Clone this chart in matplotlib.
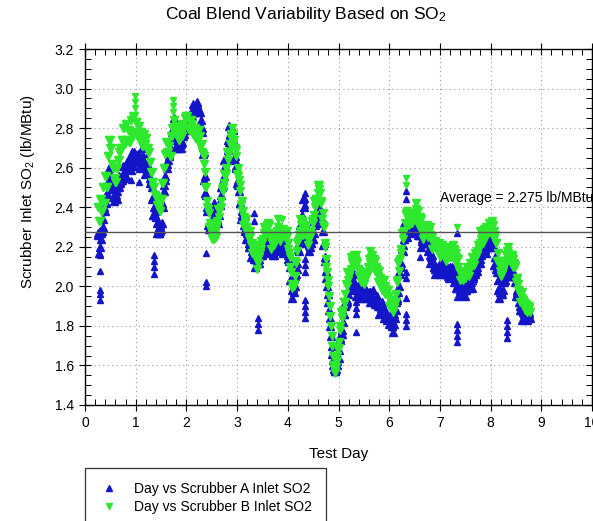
import numpy as np
import matplotlib
matplotlib.use("Agg")
import matplotlib.pyplot as plt
from matplotlib.ticker import MultipleLocator, FormatStrFormatter
from matplotlib.lines import Line2D

plt.rcParams['font.family'] = ['Liberation Sans', 'DejaVu Sans']
plt.rcParams['mathtext.fontset'] = 'custom'
plt.rcParams['mathtext.rm'] = 'Liberation Sans'
plt.rcParams['mathtext.it'] = 'Liberation Sans:italic'

# Logger readings: first sample day and sampling interval (days).
# Readings come in two interleaved sets: on the interval, and half an interval later.
FIRST_DAY = 0.25
STEP = 0.025

# Scrubber B inlet SO2 (lb/MBtu), readings on the interval
so2_b = [
    2.40, 2.33, 2.44, 2.38, 2.50, 2.42, 2.56, 2.50, 2.66, 2.74,
    2.70, 2.62, 2.60, 2.55, 2.53, 2.60, 2.64, 2.68, 2.70, 2.74,
    2.80, 2.72, 2.82, 2.74, 2.79, 2.73, 2.84, 2.76, 2.86, 2.78,
    2.83, 2.76, 2.81, 2.74, 2.78, 2.71, 2.77, 2.72, 2.75, 2.70,
    2.68, 2.63, 2.58, 2.53, 2.50, 2.46, 2.45, 2.41, 2.40, 2.38,
    2.44, 2.52, 2.60, 2.67, 2.73, 2.68, 2.71, 2.66, 2.76, 2.80,
    2.84, 2.78, 2.81, 2.75, 2.74, 2.79, 2.76, 2.82, 2.80, 2.85,
    2.86, 2.80, 2.79, 2.84, 2.82, 2.77, 2.80, 2.75, 2.79, 2.74,
    2.79, 2.71, 2.68, 2.67, 2.62, 2.50, 2.40, 2.39, 2.30, 2.30,
    2.24, 2.27, 2.27, 2.25, 2.33, 2.39, 2.38, 2.40, 2.49, 2.50,
    2.57, 2.57, 2.68, 2.67, 2.68, 2.77, 2.80, 2.72, 2.70, 2.69,
    2.57, 2.56, 2.51, 2.41, 2.38, 2.31, 2.33, 2.34, 2.27, 2.24,
    2.28, 2.21, 2.17, 2.19, 2.21, 2.14, 2.09, 2.17, 2.17, 2.23,
    2.22, 2.30, 2.29, 2.27, 2.32, 2.31, 2.24, 2.19, 2.22, 2.21,
    2.26, 2.25, 2.34, 2.28, 2.23, 2.27, 2.29, 2.26, 2.27, 2.28,
    2.19, 2.17, 2.10, 1.99, 2.00, 2.01, 2.13, 2.22, 2.23, 2.26,
    2.34, 2.32, 2.26, 2.29, 2.31, 2.25, 2.21, 2.28, 2.26, 2.33,
    2.34, 2.43, 2.44, 2.43, 2.51, 2.51, 2.42, 2.34, 2.31, 2.20,
    2.14, 2.07, 2.00, 1.90, 1.80, 1.70, 1.60, 1.56, 1.59, 1.65,
    1.69, 1.80, 1.87, 1.86, 1.92, 1.92, 2.01, 2.07, 2.05, 2.07,
    2.15, 2.13, 2.12, 2.14, 2.16, 2.09, 2.05, 2.07, 2.02, 2.03,
    2.01, 2.07, 2.07, 2.06, 2.14, 2.18, 2.15, 2.11, 2.14, 2.08,
    2.09, 2.02, 2.08, 2.02, 1.98, 2.02, 2.03, 1.96, 1.98, 1.98,
    1.90, 1.93, 1.93, 1.87, 1.92, 1.92, 2.03, 2.12, 2.13, 2.17,
    2.27, 2.27, 2.28, 2.37, 2.38, 2.37, 2.31, 2.34, 2.32, 2.37,
    2.34, 2.42, 2.38, 2.31, 2.35, 2.34, 2.27, 2.24, 2.28, 2.27,
    2.31, 2.25, 2.30, 2.24, 2.19, 2.23, 2.23, 2.19, 2.20, 2.22,
    2.15, 2.21, 2.21, 2.15, 2.18, 2.13, 2.18, 2.20, 2.15, 2.15,
    2.21, 2.18, 2.13, 2.15, 2.14, 2.08, 2.03, 2.07, 2.03, 2.05,
    2.04, 2.10, 2.08, 2.05, 2.12, 2.15, 2.11, 2.11, 2.17, 2.16,
    2.21, 2.19, 2.28, 2.24, 2.22, 2.29, 2.30, 2.26, 2.28, 2.32,
    2.27, 2.33, 2.31, 2.24, 2.22, 2.13, 2.13, 2.12, 2.05, 2.06,
    2.13, 2.12, 2.12, 2.18, 2.20, 2.15, 2.12, 2.16, 2.10, 2.11,
    2.02, 2.04, 1.98, 1.92, 1.96, 1.97, 1.91, 1.88, 1.91, 1.87,
    1.90, 1.87,
]

# Scrubber B inlet SO2 (lb/MBtu), readings half an interval later
so2_b_half = [
    2.40, 2.33, 2.44, 2.38, 2.50, 2.42, 2.56, 2.50, 2.66, 2.74,
    2.70, 2.62, 2.60, 2.55, 2.53, 2.60, 2.64, 2.68, 2.70, 2.74,
    2.80, 2.72, 2.82, 2.74, 2.79, 2.73, 2.84, 2.76, 2.86, 2.78,
    2.83, 2.76, 2.81, 2.74, 2.78, 2.71, 2.77, 2.72, 2.75, 2.70,
    2.68, 2.63, 2.58, 2.53, 2.50, 2.46, 2.45, 2.41, 2.40, 2.38,
    2.44, 2.52, 2.60, 2.67, 2.73, 2.68, 2.71, 2.66, 2.76, 2.80,
    2.84, 2.78, 2.81, 2.75, 2.74, 2.79, 2.76, 2.82, 2.80, 2.85,
    2.86, 2.80, 2.79, 2.84, 2.82, 2.77, 2.80, 2.75, 2.79, 2.74,
    2.76, 2.72, 2.72, 2.66, 2.58, 2.50, 2.43, 2.37, 2.32, 2.29,
    2.26, 2.24, 2.27, 2.29, 2.31, 2.35, 2.39, 2.43, 2.48, 2.52,
    2.56, 2.60, 2.64, 2.68, 2.72, 2.75, 2.77, 2.74, 2.70, 2.66,
    2.60, 2.54, 2.48, 2.43, 2.38, 2.35, 2.32, 2.30, 2.28, 2.26,
    2.25, 2.22, 2.21, 2.18, 2.17, 2.14, 2.12, 2.15, 2.19, 2.22,
    2.24, 2.27, 2.29, 2.31, 2.30, 2.27, 2.25, 2.22, 2.21, 2.23,
    2.25, 2.28, 2.30, 2.29, 2.27, 2.25, 2.26, 2.28, 2.27, 2.25,
    2.22, 2.15, 2.07, 2.01, 2.00, 2.05, 2.12, 2.18, 2.24, 2.28,
    2.31, 2.33, 2.30, 2.28, 2.27, 2.25, 2.24, 2.26, 2.28, 2.32,
    2.36, 2.40, 2.44, 2.47, 2.49, 2.47, 2.43, 2.37, 2.30, 2.22,
    2.10, 2.03, 1.95, 1.85, 1.75, 1.65, 1.58, 1.57, 1.62, 1.68,
    1.72, 1.78, 1.84, 1.88, 1.92, 1.96, 2.00, 2.03, 2.06, 2.09,
    2.12, 2.14, 2.16, 2.13, 2.12, 2.09, 2.08, 2.05, 2.04, 2.02,
    2.03, 2.04, 2.07, 2.10, 2.12, 2.14, 2.16, 2.14, 2.13, 2.10,
    2.08, 2.05, 2.04, 2.03, 2.02, 2.00, 2.00, 1.98, 1.98, 1.95,
    1.93, 1.91, 1.90, 1.89, 1.92, 1.96, 2.02, 2.08, 2.14, 2.19,
    2.24, 2.28, 2.32, 2.36, 2.34, 2.37, 2.34, 2.32, 2.34, 2.36,
    2.36, 2.39, 2.38, 2.35, 2.33, 2.30, 2.28, 2.27, 2.27, 2.29,
    2.30, 2.28, 2.26, 2.25, 2.23, 2.21, 2.20, 2.21, 2.20, 2.19,
    2.18, 2.19, 2.18, 2.17, 2.18, 2.17, 2.17, 2.16, 2.16, 2.17,
    2.18, 2.19, 2.17, 2.14, 2.10, 2.08, 2.06, 2.05, 2.05, 2.04,
    2.06, 2.07, 2.08, 2.09, 2.10, 2.11, 2.12, 2.14, 2.16, 2.18,
    2.20, 2.22, 2.24, 2.25, 2.26, 2.27, 2.27, 2.28, 2.28, 2.29,
    2.30, 2.31, 2.28, 2.26, 2.22, 2.17, 2.12, 2.08, 2.06, 2.08,
    2.10, 2.13, 2.16, 2.17, 2.16, 2.15, 2.15, 2.14, 2.12, 2.10,
    2.04, 2.01, 1.98, 1.96, 1.94, 1.93, 1.92, 1.91, 1.90, 1.89,
    1.89,
]

# Scrubber A inlet SO2 (lb/MBtu), readings on the interval
so2_a = [
    2.27, 2.17, 2.28, 2.27, 2.30, 2.40, 2.45, 2.45, 2.53, 2.60,
    2.51, 2.51, 2.49, 2.43, 2.46, 2.44, 2.51, 2.56, 2.53, 2.54,
    2.61, 2.55, 2.56, 2.63, 2.64, 2.64, 2.59, 2.68, 2.61, 2.68,
    2.64, 2.66, 2.67, 2.60, 2.64, 2.70, 2.62, 2.57, 2.65, 2.59,
    2.61, 2.52, 2.54, 2.44, 2.36, 2.38, 2.35, 2.27, 2.27, 2.31,
    2.29, 2.42, 2.51, 2.54, 2.62, 2.60, 2.67, 2.74, 2.75, 2.78,
    2.85, 2.77, 2.70, 2.73, 2.74, 2.72, 2.70, 2.78, 2.77, 2.83,
    2.82, 2.85, 2.80, 2.79, 2.88, 2.92, 2.89, 2.88, 2.93, 2.88,
    2.89, 2.81, 2.80, 2.67, 2.54, 2.47, 2.40, 2.31, 2.29, 2.32,
    2.29, 2.38, 2.42, 2.35, 2.34, 2.32, 2.42, 2.50, 2.50, 2.54,
    2.64, 2.64, 2.65, 2.74, 2.81, 2.80, 2.76, 2.74, 2.64, 2.61,
    2.52, 2.51, 2.42, 2.34, 2.36, 2.35, 2.28, 2.24, 2.25, 2.20,
    2.21, 2.15, 2.21, 2.14, 2.10, 2.15, 2.15, 2.12, 2.16, 2.21,
    2.16, 2.23, 2.26, 2.22, 2.23, 2.17, 2.20, 2.22, 2.16, 2.16,
    2.23, 2.21, 2.19, 2.22, 2.23, 2.18, 2.17, 2.24, 2.19, 2.20,
    2.14, 2.13, 2.03, 1.94, 1.99, 2.04, 2.05, 2.09, 2.19, 2.22,
    2.31, 2.33, 2.44, 2.31, 2.22, 2.25, 2.24, 2.18, 2.22, 2.27,
    2.24, 2.33, 2.38, 2.36, 2.40, 2.34, 2.35, 2.32, 2.21, 2.13,
    2.08, 2.00, 1.92, 1.84, 1.75, 1.66, 1.60, 1.57, 1.58, 1.62,
    1.64, 1.74, 1.76, 1.76, 1.86, 1.92, 1.91, 1.92, 1.99, 1.98,
    2.03, 2.00, 2.06, 1.99, 1.95, 2.00, 2.00, 1.94, 1.97, 1.99,
    1.94, 1.98, 1.98, 1.94, 1.97, 1.92, 1.96, 1.98, 1.92, 1.91,
    1.95, 1.90, 1.86, 1.90, 1.92, 1.88, 1.84, 1.88, 1.83, 1.85,
    1.81, 1.85, 1.80, 1.77, 1.86, 1.92, 1.93, 1.97, 2.07, 2.10,
    2.19, 2.21, 2.32, 2.29, 2.25, 2.33, 2.33, 2.27, 2.31, 2.35,
    2.28, 2.34, 2.33, 2.26, 2.26, 2.20, 2.23, 2.26, 2.22, 2.22,
    2.25, 2.18, 2.12, 2.15, 2.16, 2.10, 2.06, 2.10, 2.07, 2.09,
    2.06, 2.13, 2.12, 2.06, 2.10, 2.11, 2.05, 2.04, 2.10, 2.08,
    2.09, 2.02, 2.06, 1.99, 1.95, 2.00, 2.00, 1.96, 1.97, 2.01,
    1.95, 2.01, 2.03, 1.99, 2.02, 1.99, 2.05, 2.10, 2.07, 2.08,
    2.15, 2.13, 2.12, 2.18, 2.22, 2.19, 2.17, 2.23, 2.20, 2.24,
    2.22, 2.26, 2.20, 2.11, 2.11, 2.07, 1.98, 1.94, 1.97, 1.96,
    2.03, 2.03, 2.13, 2.09, 2.05, 2.10, 2.11, 2.05, 2.05, 2.05,
    1.95, 1.97, 1.95, 1.88, 1.88, 1.83, 1.87, 1.90, 1.84, 1.83,
    1.87, 1.84,
]

# Scrubber A inlet SO2 (lb/MBtu), readings half an interval later
so2_a_half = [
    2.26, 2.20, 2.24, 2.28, 2.34, 2.38, 2.42, 2.47, 2.53, 2.57,
    2.54, 2.49, 2.46, 2.45, 2.46, 2.48, 2.50, 2.52, 2.54, 2.56,
    2.58, 2.56, 2.60, 2.62, 2.60, 2.64, 2.62, 2.66, 2.63, 2.67,
    2.66, 2.63, 2.67, 2.64, 2.62, 2.66, 2.63, 2.60, 2.64, 2.61,
    2.60, 2.55, 2.50, 2.45, 2.40, 2.36, 2.32, 2.29, 2.27, 2.28,
    2.32, 2.40, 2.48, 2.56, 2.62, 2.64, 2.66, 2.70, 2.76, 2.80,
    2.82, 2.78, 2.74, 2.72, 2.70, 2.72, 2.73, 2.76, 2.79, 2.82,
    2.84, 2.82, 2.80, 2.83, 2.86, 2.88, 2.90, 2.91, 2.92, 2.90,
    2.88, 2.84, 2.78, 2.68, 2.56, 2.46, 2.38, 2.32, 2.29, 2.30,
    2.32, 2.36, 2.39, 2.37, 2.34, 2.36, 2.41, 2.46, 2.51, 2.56,
    2.61, 2.65, 2.69, 2.73, 2.77, 2.80, 2.79, 2.72, 2.66, 2.60,
    2.54, 2.48, 2.42, 2.38, 2.34, 2.31, 2.29, 2.27, 2.24, 2.22,
    2.20, 2.18, 2.17, 2.15, 2.14, 2.13, 2.12, 2.14, 2.16, 2.18,
    2.19, 2.21, 2.23, 2.24, 2.23, 2.21, 2.19, 2.18, 2.17, 2.18,
    2.20, 2.22, 2.23, 2.21, 2.19, 2.18, 2.20, 2.22, 2.21, 2.19,
    2.16, 2.10, 2.03, 1.98, 1.97, 2.00, 2.06, 2.12, 2.18, 2.24,
    2.30, 2.36, 2.40, 2.32, 2.26, 2.23, 2.21, 2.20, 2.22, 2.24,
    2.27, 2.31, 2.35, 2.38, 2.40, 2.38, 2.34, 2.28, 2.22, 2.15,
    2.04, 1.96, 1.88, 1.80, 1.70, 1.63, 1.58, 1.57, 1.60, 1.64,
    1.68, 1.73, 1.78, 1.82, 1.86, 1.90, 1.93, 1.96, 1.99, 2.01,
    2.02, 2.03, 2.02, 2.00, 1.99, 1.98, 1.97, 1.96, 1.97, 1.96,
    1.97, 1.96, 1.95, 1.96, 1.97, 1.96, 1.95, 1.94, 1.93, 1.93,
    1.92, 1.91, 1.90, 1.89, 1.88, 1.88, 1.87, 1.86, 1.85, 1.84,
    1.83, 1.82, 1.80, 1.81, 1.84, 1.88, 1.94, 2.00, 2.06, 2.12,
    2.18, 2.24, 2.28, 2.30, 2.29, 2.31, 2.30, 2.29, 2.31, 2.32,
    2.31, 2.32, 2.30, 2.28, 2.26, 2.24, 2.22, 2.22, 2.23, 2.24,
    2.22, 2.19, 2.16, 2.14, 2.12, 2.10, 2.09, 2.08, 2.09, 2.08,
    2.08, 2.10, 2.12, 2.10, 2.08, 2.07, 2.06, 2.07, 2.09, 2.10,
    2.08, 2.05, 2.02, 2.00, 1.99, 1.98, 1.97, 1.98, 1.97, 1.98,
    1.98, 1.99, 2.00, 2.01, 2.02, 2.03, 2.04, 2.06, 2.08, 2.10,
    2.12, 2.14, 2.16, 2.17, 2.18, 2.19, 2.20, 2.21, 2.22, 2.23,
    2.24, 2.23, 2.20, 2.15, 2.09, 2.03, 1.99, 1.97, 1.96, 1.98,
    2.02, 2.06, 2.09, 2.10, 2.09, 2.08, 2.08, 2.07, 2.05, 2.02,
    1.98, 1.95, 1.92, 1.90, 1.88, 1.87, 1.86, 1.86, 1.85, 1.85,
    1.86,
]

# Isolated excursions (day, SO2) away from the main trace
excursion_day_a = [0.30, 0.30, 0.30, 0.30, 0.30, 0.90, 1.07,
                   1.36, 1.36, 1.36, 1.36, 2.38, 2.38, 2.38,
                   3.33, 3.33, 3.42, 3.42, 3.42,
                   4.33, 4.33, 4.33, 4.33, 4.33, 4.33, 4.33, 4.33, 4.33, 4.33,
                   5.35, 5.35, 5.35, 5.35, 5.67,
                   6.33, 6.33, 6.33, 6.33, 6.33, 6.33, 6.33, 6.33, 6.60,
                   7.33, 7.33, 7.33, 7.33, 7.33, 7.33, 7.33,
                   8.33, 8.33, 8.33, 8.33]
excursion_so2_a = [2.16, 2.08, 1.98, 1.96, 1.93, 2.54, 2.53,
                   2.16, 2.13, 2.10, 2.06, 2.17, 2.02, 2.00,
                   2.37, 2.33, 1.84, 1.81, 1.78,
                   2.47, 2.44, 2.41, 2.14, 2.11, 2.07, 1.93, 1.90, 1.87, 1.84,
                   1.92, 1.89, 1.86, 1.77, 1.93,
                   2.48, 2.44, 2.07, 2.04, 1.94, 1.86, 1.83, 1.80, 2.15,
                   2.27, 2.02, 1.99, 1.81, 1.78, 1.75, 1.72,
                   1.83, 1.80, 1.77, 1.74]
excursion_day_b = [0.98, 0.98, 0.98, 1.73, 1.73, 1.73, 3.88, 6.33, 6.33, 7.33]
excursion_so2_b = [2.96, 2.93, 2.90, 2.94, 2.91, 2.88, 2.34, 2.55, 2.51, 2.30]

AVERAGE = 2.275
x_limits = (0, 10)
y_limits = (1.4, 3.2)

BLUE = '#1414c8'
GREEN = '#2ee82e'

days_b = FIRST_DAY + STEP * np.arange(len(so2_b))
days_b_half = FIRST_DAY + STEP / 2 + STEP * np.arange(len(so2_b_half))
days_a = FIRST_DAY + STEP * np.arange(len(so2_a))
days_a_half = FIRST_DAY + STEP / 2 + STEP * np.arange(len(so2_a_half))

W, H = 593, 521
fig = plt.figure(figsize=(W / 100, H / 100), dpi=100)
ax = fig.add_axes([85 / W, 1 - 405 / H, (592 - 85) / W, (405 - 49) / H])

ax.set_xlim(*x_limits)
ax.set_ylim(*y_limits)

ax.grid(True, which='major', linestyle=(0, (1, 3)), color='#9a9a9a', linewidth=0.8)
ax.set_axisbelow(True)

ms = 5.4
spike_ms = 4.6
for d, v in ((days_a, so2_a), (days_a_half, so2_a_half), (excursion_day_a, excursion_so2_a)):
    size = spike_ms if d is excursion_day_a else ms
    ax.plot(d, v, ls='none', marker='^', ms=size, color=BLUE, mec=BLUE, zorder=3)
for d, v in ((days_b, so2_b), (days_b_half, so2_b_half), (excursion_day_b, excursion_so2_b)):
    size = spike_ms if d is excursion_day_b else ms
    ax.plot(d, v, ls='none', marker='v', ms=size, color=GREEN, mec=GREEN, zorder=4)

ax.axhline(AVERAGE, color='#555555', linewidth=1.0, zorder=5)
ax.text(7.0, 2.447, f'Average = {AVERAGE} lb/MBtu', fontsize=10, ha='left', va='center',
        clip_on=False, zorder=6)

ax.xaxis.set_major_locator(MultipleLocator(1))
ax.xaxis.set_minor_locator(MultipleLocator(0.2))
ax.yaxis.set_major_locator(MultipleLocator(0.2))
ax.yaxis.set_minor_locator(MultipleLocator(0.05))
ax.yaxis.set_major_formatter(FormatStrFormatter('%.1f'))
ax.tick_params(which='major', direction='inout', length=8, width=0.8,
               top=True, right=True, labelsize=10, pad=4)
ax.tick_params(which='minor', direction='in', length=4, width=0.7, top=True, right=True)
for s in ax.spines.values():
    s.set_linewidth(1.0)

ax.set_xlabel('Test Day', fontsize=11, labelpad=12)
fig.text(28 / W, 1 - 192 / H, 'Scrubber Inlet SO$_2$ (lb/MBtu)', rotation=90,
         ha='center', va='center', fontsize=11)
fig.text(306 / W, 1 - 14 / H, 'Coal Blend Variability Based on SO$_2$',
         ha='center', va='center', fontsize=12.5)

handles = [
    Line2D([], [], ls='none', marker='^', ms=4, color=BLUE),
    Line2D([], [], ls='none', marker='v', ms=4, color=GREEN),
]
leg = fig.legend(handles, ['Day vs Scrubber A Inlet SO2', 'Day vs Scrubber B Inlet SO2'],
                 loc='upper left', bbox_to_anchor=(85 / W, 1 - 468 / H),
                 fontsize=10, frameon=True, fancybox=False, edgecolor='black',
                 borderpad=1.0, handlelength=1.5, handletextpad=1.0,
                 labelspacing=0.3, borderaxespad=0)
leg.get_frame().set_linewidth(0.9)

fig.savefig('out.png', dpi=100)
